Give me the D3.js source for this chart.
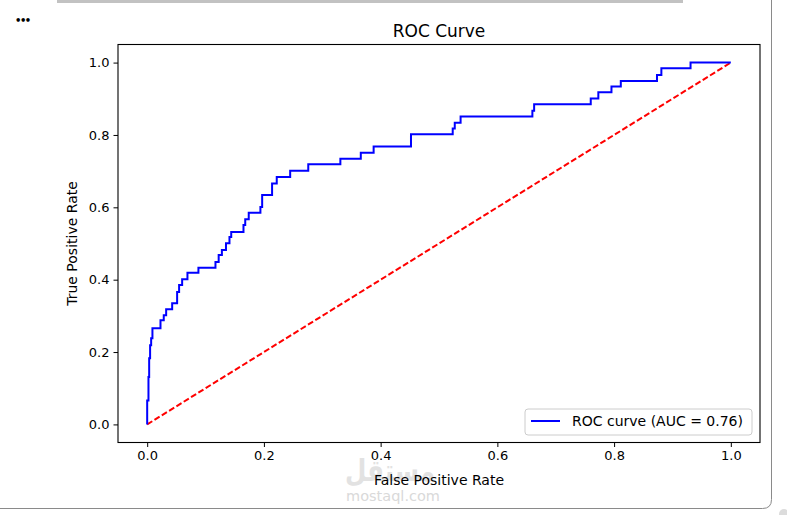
<!DOCTYPE html>
<html>
<head>
<meta charset="utf-8">
<script src="https://cdn.jsdelivr.net/npm/d3@7"></script>
<style>
  html, body { margin: 0; padding: 0; background: #fff; }
  svg { display: block; }
  text { font-family: "DejaVu Sans", sans-serif; fill: #000; }
</style>
</head>
<body>
<svg id="chart" width="787" height="515"></svg>
<script>
// ---- data ----
const fpr = [0, 0, 0.0022, 0.0022, 0.0034, 0.0034, 0.005, 0.005, 0.0068, 0.0068, 0.009, 0.009,
  0.0228, 0.0228, 0.0284, 0.0284, 0.0325, 0.0325, 0.0428, 0.0428, 0.0513, 0.0513, 0.0547, 0.0547,
  0.0599, 0.0599, 0.069, 0.069, 0.0878, 0.0878, 0.117, 0.117, 0.1225, 0.1225, 0.128, 0.128,
  0.135, 0.135, 0.141, 0.141, 0.144, 0.144, 0.165, 0.165, 0.168, 0.168, 0.174, 0.174,
  0.194, 0.194, 0.197, 0.197, 0.214, 0.214, 0.222, 0.222, 0.245, 0.245, 0.276, 0.276,
  0.331, 0.331, 0.366, 0.366, 0.388, 0.388, 0.452, 0.452, 0.5235, 0.5235, 0.527, 0.527,
  0.537, 0.537, 0.660, 0.660, 0.663, 0.663, 0.760, 0.760, 0.773, 0.773, 0.7955, 0.7955,
  0.8115, 0.8115, 0.8735, 0.8735, 0.881, 0.881, 0.931, 0.931, 1.0];
const tpr = [0, 0.066, 0.066, 0.131, 0.131, 0.183, 0.183, 0.219, 0.219, 0.238, 0.238, 0.266,
  0.266, 0.288, 0.288, 0.302, 0.302, 0.318, 0.318, 0.335, 0.335, 0.366, 0.366, 0.385,
  0.385, 0.401, 0.401, 0.419, 0.419, 0.433, 0.433, 0.449, 0.449, 0.468, 0.468, 0.482,
  0.482, 0.501, 0.501, 0.518, 0.518, 0.532, 0.532, 0.551, 0.551, 0.567, 0.567, 0.585,
  0.585, 0.601, 0.601, 0.634, 0.634, 0.666, 0.666, 0.684, 0.684, 0.701, 0.701, 0.719,
  0.719, 0.734, 0.734, 0.751, 0.751, 0.768, 0.768, 0.802, 0.802, 0.818, 0.818, 0.834,
  0.834, 0.851, 0.851, 0.867, 0.867, 0.885, 0.885, 0.901, 0.901, 0.918, 0.918, 0.934,
  0.934, 0.949, 0.949, 0.966, 0.966, 0.9845, 0.9845, 1.0, 1.0];
const chanceX = [0, 1];
const chanceY = [0, 1];
const xTicks = [0.0, 0.2, 0.4, 0.6, 0.8, 1.0];
const yTicks = [0.0, 0.2, 0.4, 0.6, 0.8, 1.0];
const titleText = "ROC Curve";
const xLabel = "False Positive Rate";
const yLabel = "True Positive Rate";
const legendLabel = "ROC curve (AUC = 0.76)";

// ---- layout ----
const svg = d3.select("#chart");
const plot = { left: 118, right: 760, top: 44.5, bottom: 442.5 };

// page frame (notebook card)
svg.append("rect").attr("x", 57).attr("y", 0).attr("width", 626).attr("height", 3).attr("fill", "#c2c2c2");
svg.append("path")
  .attr("d", "M -10 508.5 L 762.5 508.5 Q 771.5 508.5 771.5 499.5 L 771.5 -10")
  .attr("fill", "none").attr("stroke", "#8a8a8a").attr("stroke-width", 1);
svg.append("circle").attr("cx", 784).attr("cy", 514).attr("r", 5).attr("fill", "#dcdcdc");
svg.append("text").attr("x", 15).attr("y", 24).attr("font-size", 10).attr("font-weight", "bold")
  .attr("letter-spacing", -1.5).text("•••");

// watermark
svg.append("text").attr("x", 390).attr("y", 481).attr("text-anchor", "middle")
  .attr("font-size", 30).attr("font-weight", "bold").attr("textLength", 90)
  .attr("lengthAdjust", "spacingAndGlyphs").style("fill", "#e2e2e2")
  .style("font-family", "'Noto Sans', 'DejaVu Sans', sans-serif").text("مستقل");
svg.append("text").attr("x", 393).attr("y", 501).attr("text-anchor", "middle")
  .attr("font-size", 14.5).style("fill", "#d9d9d9").text("mostaql.com");

const x = d3.scaleLinear().domain([-0.05, 1.05]).range([plot.left, plot.right]);
const y = d3.scaleLinear().domain([-0.05, 1.05]).range([plot.bottom, plot.top]);

// curves
const line = d3.line().x(d => x(d[0])).y(d => y(d[1]));
svg.append("path")
  .datum(chanceX.map((v, i) => [v, chanceY[i]]))
  .attr("d", line).attr("fill", "none").attr("stroke", "#ff0000")
  .attr("stroke-width", 2).attr("stroke-dasharray", "6,2.6");
svg.append("path")
  .datum(fpr.map((v, i) => [v, tpr[i]]))
  .attr("d", line).attr("fill", "none").attr("stroke", "#0000ff")
  .attr("stroke-width", 2).attr("stroke-linejoin", "miter");

// axes
const xAxis = d3.axisBottom(x).tickValues(xTicks).tickFormat(d3.format(".1f")).tickSize(4.5).tickPadding(4);
const yAxis = d3.axisLeft(y).tickValues(yTicks).tickFormat(d3.format(".1f")).tickSize(4.5).tickPadding(4);
const gx = svg.append("g").attr("transform", `translate(0,${plot.bottom})`).call(xAxis);
const gy = svg.append("g").attr("transform", `translate(${plot.left},0)`).call(yAxis);
[gx, gy].forEach(g => {
  g.select(".domain").remove();
  g.selectAll(".tick line").attr("stroke", "#000").attr("stroke-width", 1);
  g.selectAll(".tick text").attr("font-size", 13).style("font-family", "'DejaVu Sans', sans-serif").attr("fill", "#000");
});

// spines
svg.append("rect").attr("x", plot.left).attr("y", plot.top)
  .attr("width", plot.right - plot.left).attr("height", plot.bottom - plot.top)
  .attr("fill", "none").attr("stroke", "#000").attr("stroke-width", 1.1);

// title and labels
svg.append("text").attr("x", (plot.left + plot.right) / 2).attr("y", 37)
  .attr("text-anchor", "middle").attr("font-size", 17).text(titleText);
svg.append("text").attr("x", (plot.left + plot.right) / 2).attr("y", 485)
  .attr("text-anchor", "middle").attr("font-size", 14).text(xLabel);
svg.append("text").attr("transform", `translate(77,${(plot.top + plot.bottom) / 2}) rotate(-90)`)
  .attr("text-anchor", "middle").attr("font-size", 14).text(yLabel);

// legend
const lg = svg.append("g");
lg.append("rect").attr("x", 525).attr("y", 409).attr("width", 227).attr("height", 26).attr("rx", 3)
  .attr("fill", "#fff").attr("fill-opacity", 0.8).attr("stroke", "#cccccc").attr("stroke-width", 1);
lg.append("line").attr("x1", 531).attr("x2", 560).attr("y1", 421).attr("y2", 421)
  .attr("stroke", "#0000ff").attr("stroke-width", 2);
lg.append("text").attr("x", 572).attr("y", 426).attr("font-size", 14).text(legendLabel);
</script>
</body>
</html>
